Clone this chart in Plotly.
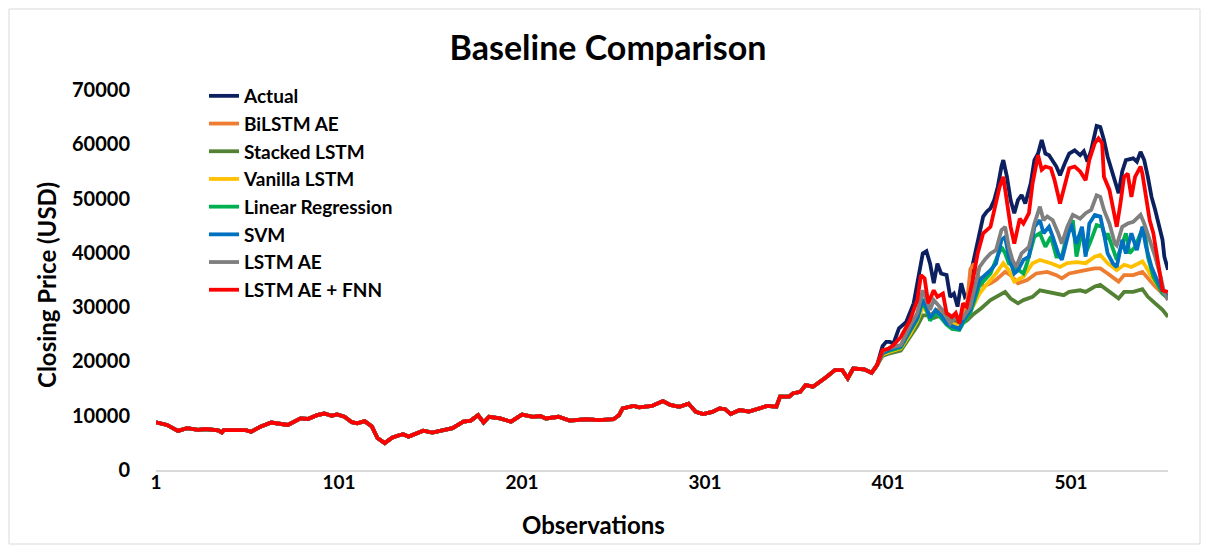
import plotly.graph_objects as go

# ---------------- data ----------------
# Early period: all models overlap the actual price visually
early_obs = [1, 7, 13, 18, 24, 28, 35, 37, 38, 45, 50, 53, 58, 64, 68, 73, 80, 84, 89, 93,
             97, 100, 104, 108, 111, 115, 119, 122, 126, 130, 133, 136, 139, 147, 152, 158,
             163, 169, 173, 177, 180, 183, 189, 195, 201, 207, 211, 214, 221, 227, 236, 243,
             251, 254, 256, 262, 265, 272, 278, 282, 287, 292, 296, 300, 305, 309, 312, 315,
             320, 325, 331, 335, 340, 342, 347, 349, 353, 356, 360, 364, 367, 372, 376, 379,
             382, 388, 392, 395]
early_val = [8800, 8300, 7200, 7700, 7400, 7550, 7300, 6900, 7350, 7300, 7350, 7050, 7950,
             8750, 8600, 8300, 9500, 9400, 10100, 10400, 10000, 10250, 9800, 8800, 8600, 9000,
             8000, 5900, 4950, 5950, 6300, 6600, 6150, 7250, 6900, 7250, 7700, 8900, 9100,
             10100, 8750, 9800, 9500, 8900, 10200, 9800, 9950, 9500, 9800, 9100, 9350, 9200,
             9350, 10100, 11350, 11800, 11550, 11800, 12700, 12000, 11650, 12200, 10700, 10300,
             10700, 11350, 11200, 10300, 11050, 10750, 11350, 11800, 11650, 13500, 13500, 14100,
             14400, 15650, 15350, 16250, 17050, 18400, 18400, 16900, 18700, 18550, 17900, 19300]

actual_obs = [398, 400, 402, 404, 407, 411, 415, 417, 420, 422, 424, 426, 428, 430, 433, 435,
              437, 439, 441, 443, 445, 447, 451, 453, 455, 457, 459, 461, 463, 464, 466, 468,
              470, 472, 474, 476, 479, 481, 483, 485, 487, 489, 493, 495, 498, 500, 503, 506,
              508, 510, 512, 514, 515, 517, 519, 521, 524, 527, 529, 531, 535, 537, 539, 541,
              543, 545, 547, 549, 551, 552, 554]
actual_val = [22800, 23600, 23600, 23300, 26100, 27300, 30700, 34400, 39900, 40300, 38000,
              34400, 38000, 36200, 35900, 31900, 32500, 30100, 34400, 31900, 32500, 37400,
              43600, 46700, 47600, 48200, 49700, 52200, 55900, 57100, 54000, 49700, 47300,
              49700, 50650, 49100, 52800, 57100, 58300, 60800, 58300, 58000, 55900, 54300,
              56800, 58300, 58900, 58000, 58700, 56800, 58900, 62000, 63400, 63200, 60800,
              57700, 54600, 51000, 55000, 57100, 57400, 56800, 58600, 57100, 54000, 50300,
              47900, 44800, 42400, 39300, 36900]

bilstm_obs = [398, 402, 408, 413, 417, 420, 424, 428, 432, 436, 440, 444, 446, 448, 450, 453,
              457, 460, 465, 468, 472, 477, 482, 488, 493, 496, 500, 506, 509, 514, 517, 521,
              527, 530, 535, 540, 543, 547, 551, 554]
bilstm_val = [21300, 21800, 22400, 25000, 27800, 30500, 28500, 29500, 28500, 27500, 27000,
              30000, 37000, 38000, 36000, 33800, 34400, 35000, 36500, 35900, 34400, 35000,
              36200, 36500, 35900, 35300, 36200, 36500, 36800, 37150, 37150, 36200, 34700,
              35900, 35900, 36500, 35300, 33800, 32500, 31900]

stacked_obs = [398, 402, 408, 413, 417, 420, 423, 426, 430, 434, 437, 440, 444, 448, 452, 457,
               460, 465, 468, 472, 475, 480, 484, 488, 493, 497, 500, 506, 509, 514, 517, 521,
               527, 530, 535, 540, 543, 547, 551, 554]
stacked_val = [21000, 21500, 22000, 24500, 26500, 28500, 28500, 28000, 28500, 28000, 27500,
               26800, 27500, 28800, 29800, 31300, 31900, 32800, 31600, 30700, 31300, 31900,
               33100, 32800, 32500, 32200, 32800, 33100, 32800, 33800, 34100, 33100, 31600,
               32800, 32800, 33300, 31900, 30700, 29500, 28200]

vanilla_obs = [398, 402, 408, 413, 417, 420, 424, 428, 432, 436, 440, 444, 448, 451, 454, 457,
               460, 464, 467, 470, 475, 480, 484, 490, 495, 499, 504, 509, 514, 517, 521, 526,
               530, 534, 540, 542, 545, 549, 552, 554]
vanilla_val = [21300, 21800, 22400, 25000, 27500, 30000, 28500, 29000, 28000, 27000, 26500,
               28000, 30500, 32500, 33800, 35000, 36200, 38100, 36800, 34700, 35600, 38100,
               38700, 38100, 37400, 38100, 38300, 38100, 39300, 39600, 38100, 36800, 37800,
               37400, 38400, 37400, 35600, 33800, 32500, 32000]

linreg_obs = [398, 402, 408, 413, 417, 420, 422, 424, 427, 430, 433, 436, 440, 442, 446, 451,
              454, 457, 460, 463, 465, 467, 470, 475, 477, 481, 484, 487, 490, 493, 496, 499,
              502, 504, 507, 509, 512, 515, 518, 520, 521, 523, 526, 529, 531, 533, 536, 539,
              541, 543, 546, 549, 551, 554]
linreg_val = [21500, 22000, 22600, 25500, 27800, 31000, 29500, 27500, 29000, 28000, 26800,
              26000, 25800, 27000, 29000, 34000, 35200, 36200, 38700, 41100, 39900, 38100,
              37400, 36200, 38100, 43000, 43600, 41100, 43000, 39300, 39300, 43600, 46000,
              39300, 44200, 39900, 42400, 45100, 44800, 42400, 43600, 41700, 38700, 41700,
              43600, 39900, 41100, 43600, 44800, 39300, 35600, 33800, 32500, 31600]

svm_obs = [398, 402, 408, 413, 417, 420, 422, 424, 427, 430, 433, 436, 440, 442, 446, 451,
           454, 457, 460, 463, 465, 467, 470, 472, 475, 478, 481, 484, 486, 489, 491, 494,
           496, 499, 501, 504, 507, 509, 511, 514, 517, 519, 521, 524, 526, 529, 531, 534,
           537, 540, 542, 545, 548, 551, 554]
svm_val = [21500, 22200, 22800, 25800, 28000, 31500, 30000, 28000, 29500, 28500, 27000,
           26500, 26000, 27500, 29500, 35000, 35800, 36800, 38000, 42400, 42900, 39300, 36200,
           36800, 38700, 39300, 44800, 46000, 43600, 44800, 43000, 39900, 38700, 42400, 45400,
           41700, 44800, 39300, 45400, 47000, 46700, 43600, 39900, 38000, 37400, 42400, 39900,
           43600, 40500, 44800, 41100, 37400, 35000, 33100, 31900]

lstmae_obs = [398, 402, 408, 413, 417, 420, 422, 424, 426, 429, 432, 435, 438, 442, 446, 451,
              454, 457, 460, 463, 465, 467, 469, 471, 474, 478, 481, 484, 486, 488, 491, 494,
              496, 499, 502, 506, 509, 512, 515, 517, 519, 522, 525, 526, 529, 532, 535, 539,
              541, 544, 547, 550, 552, 554]
lstmae_val = [21800, 22500, 23000, 26500, 28900, 33100, 31500, 29500, 31300, 30100, 29000,
              27000, 28200, 28000, 30100, 37400, 38800, 39900, 40500, 44200, 44800, 41100,
              38700, 37400, 39900, 41100, 45400, 48500, 46000, 46700, 46000, 43600, 41700,
              44800, 47000, 46300, 47300, 47900, 50600, 50300, 47900, 45400, 41700, 41400,
              44800, 45400, 45700, 47000, 45400, 42400, 39300, 35600, 32500, 31300]

fnn_obs = [398, 401, 404, 408, 413, 417, 419, 421, 423, 426, 428, 431, 433, 436, 438, 440,
           442, 444, 447, 450, 453, 457, 460, 462, 464, 466, 468, 470, 473, 475, 478, 480,
           483, 485, 487, 490, 492, 495, 498, 500, 503, 506, 509, 511, 514, 516, 518, 519,
           522, 524, 526, 528, 530, 532, 534, 536, 539, 540, 542, 544, 546, 548, 550, 551,
           554]
fnn_val = [22100, 22300, 23000, 24500, 27600, 31300, 35900, 35300, 30700, 33100, 31900, 32500,
           28900, 28200, 28900, 27000, 30700, 30100, 34400, 39900, 43600, 44800, 49700, 52200,
           54000, 49100, 44800, 41700, 46300, 45400, 47300, 52800, 58000, 55300, 55900, 55600,
           53400, 49100, 53400, 55600, 55900, 55000, 53400, 57100, 60200, 61100, 60200, 54000,
           51600, 48500, 44800, 49100, 54000, 54600, 50300, 54000, 55900, 54600, 50300, 46000,
           43600, 39300, 35600, 33100, 32800]

series_names = ["Actual", "BiLSTM AE", "Stacked LSTM", "Vanilla LSTM", "Linear Regression",
                "SVM", "LSTM AE", "LSTM AE + FNN"]
series_colors = ["#0C1F5E", "#ED7D31", "#548235", "#FFC000", "#00B050", "#0070C0",
                 "#7F7F7F", "#FF0000"]
late_obs = [actual_obs, bilstm_obs, stacked_obs, vanilla_obs, linreg_obs, svm_obs,
            lstmae_obs, fnn_obs]
late_val = [actual_val, bilstm_val, stacked_val, vanilla_val, linreg_val, svm_val,
            lstmae_val, fnn_val]

x_tick_vals = [1, 101, 201, 301, 401, 501]
y_tick_vals = [0, 10000, 20000, 30000, 40000, 50000, 60000, 70000]

# ---------------- figure ----------------
FONT = "Lato"
fig = go.Figure()
for name, color, xo, yv in zip(series_names, series_colors, late_obs, late_val):
    fig.add_trace(go.Scatter(
        x=early_obs + xo, y=early_val + yv, mode="lines", name="<b>" + name + "</b>",
        line=dict(color=color, width=3.8)))

# page body has an 8px margin: work in figure coordinates = screen - 8
OFF = 8
W, H = 1209 - 2 * OFF, 553 - 2 * OFF
L = 156 - OFF
T = 90 - OFF
Rr = W - (1168 - OFF)
Bb = H - (470 - OFF)
pw, ph = W - L - Rr, H - T - Bb


def px_x(sx):
    return (sx - OFF - L) / pw


def px_y(sy):
    return 1 - (sy - OFF - T) / ph


fig.update_layout(
    width=W, height=H,
    margin=dict(l=L, r=Rr, t=T, b=Bb),
    paper_bgcolor="white", plot_bgcolor="white",
    font=dict(family=FONT, color="#000000"),
    title=dict(text="<b>Baseline Comparison</b>", x=(608 - OFF) / W, xanchor="center",
               y=1 - (48 - OFF) / H, yanchor="middle", font=dict(size=34, family=FONT)),
    showlegend=True,
    legend=dict(x=px_x(204), y=px_y(77), xanchor="left", yanchor="top",
                bgcolor="rgba(0,0,0,0)", font=dict(size=19, family=FONT),
                tracegroupgap=0, itemwidth=30),
    xaxis=dict(range=[1, 554], tickmode="array", tickvals=x_tick_vals,
               ticktext=["<b>%d</b>" % v for v in x_tick_vals], showgrid=False,
               zeroline=False, showline=True, linecolor="#D9D9D9", linewidth=2,
               ticks="", tickfont=dict(size=19, family=FONT), ticklabelstandoff=-6),
    yaxis=dict(range=[0, 70000], tickmode="array", tickvals=y_tick_vals,
               ticktext=["<b>%d</b>" % v for v in y_tick_vals], showgrid=False,
               zeroline=False, showline=False, ticks="outside", ticklen=21,
               tickcolor="rgba(0,0,0,0)", tickfont=dict(size=20, family=FONT)),
    annotations=[
        dict(text="<b>Observations</b>", xref="paper", yref="paper", x=px_x(593),
             y=px_y(524), xanchor="center", yanchor="middle", showarrow=False,
             font=dict(size=24, family=FONT)),
        dict(text="<b>Closing Price (USD)</b>", xref="paper", yref="paper", x=px_x(46),
             y=px_y(285), xanchor="center", yanchor="middle", showarrow=False,
             textangle=-90, font=dict(size=24, family=FONT)),
    ],
)

# chart area border (light gray frame around the whole chart)
fig.add_shape(type="rect", xref="paper", yref="paper",
              x0=px_x(9), x1=px_x(1200), y0=px_y(544), y1=px_y(9),
              line=dict(color="#D9D9D9", width=1), fillcolor="rgba(0,0,0,0)",
              layer="below")

fig.write_html("out.html")
